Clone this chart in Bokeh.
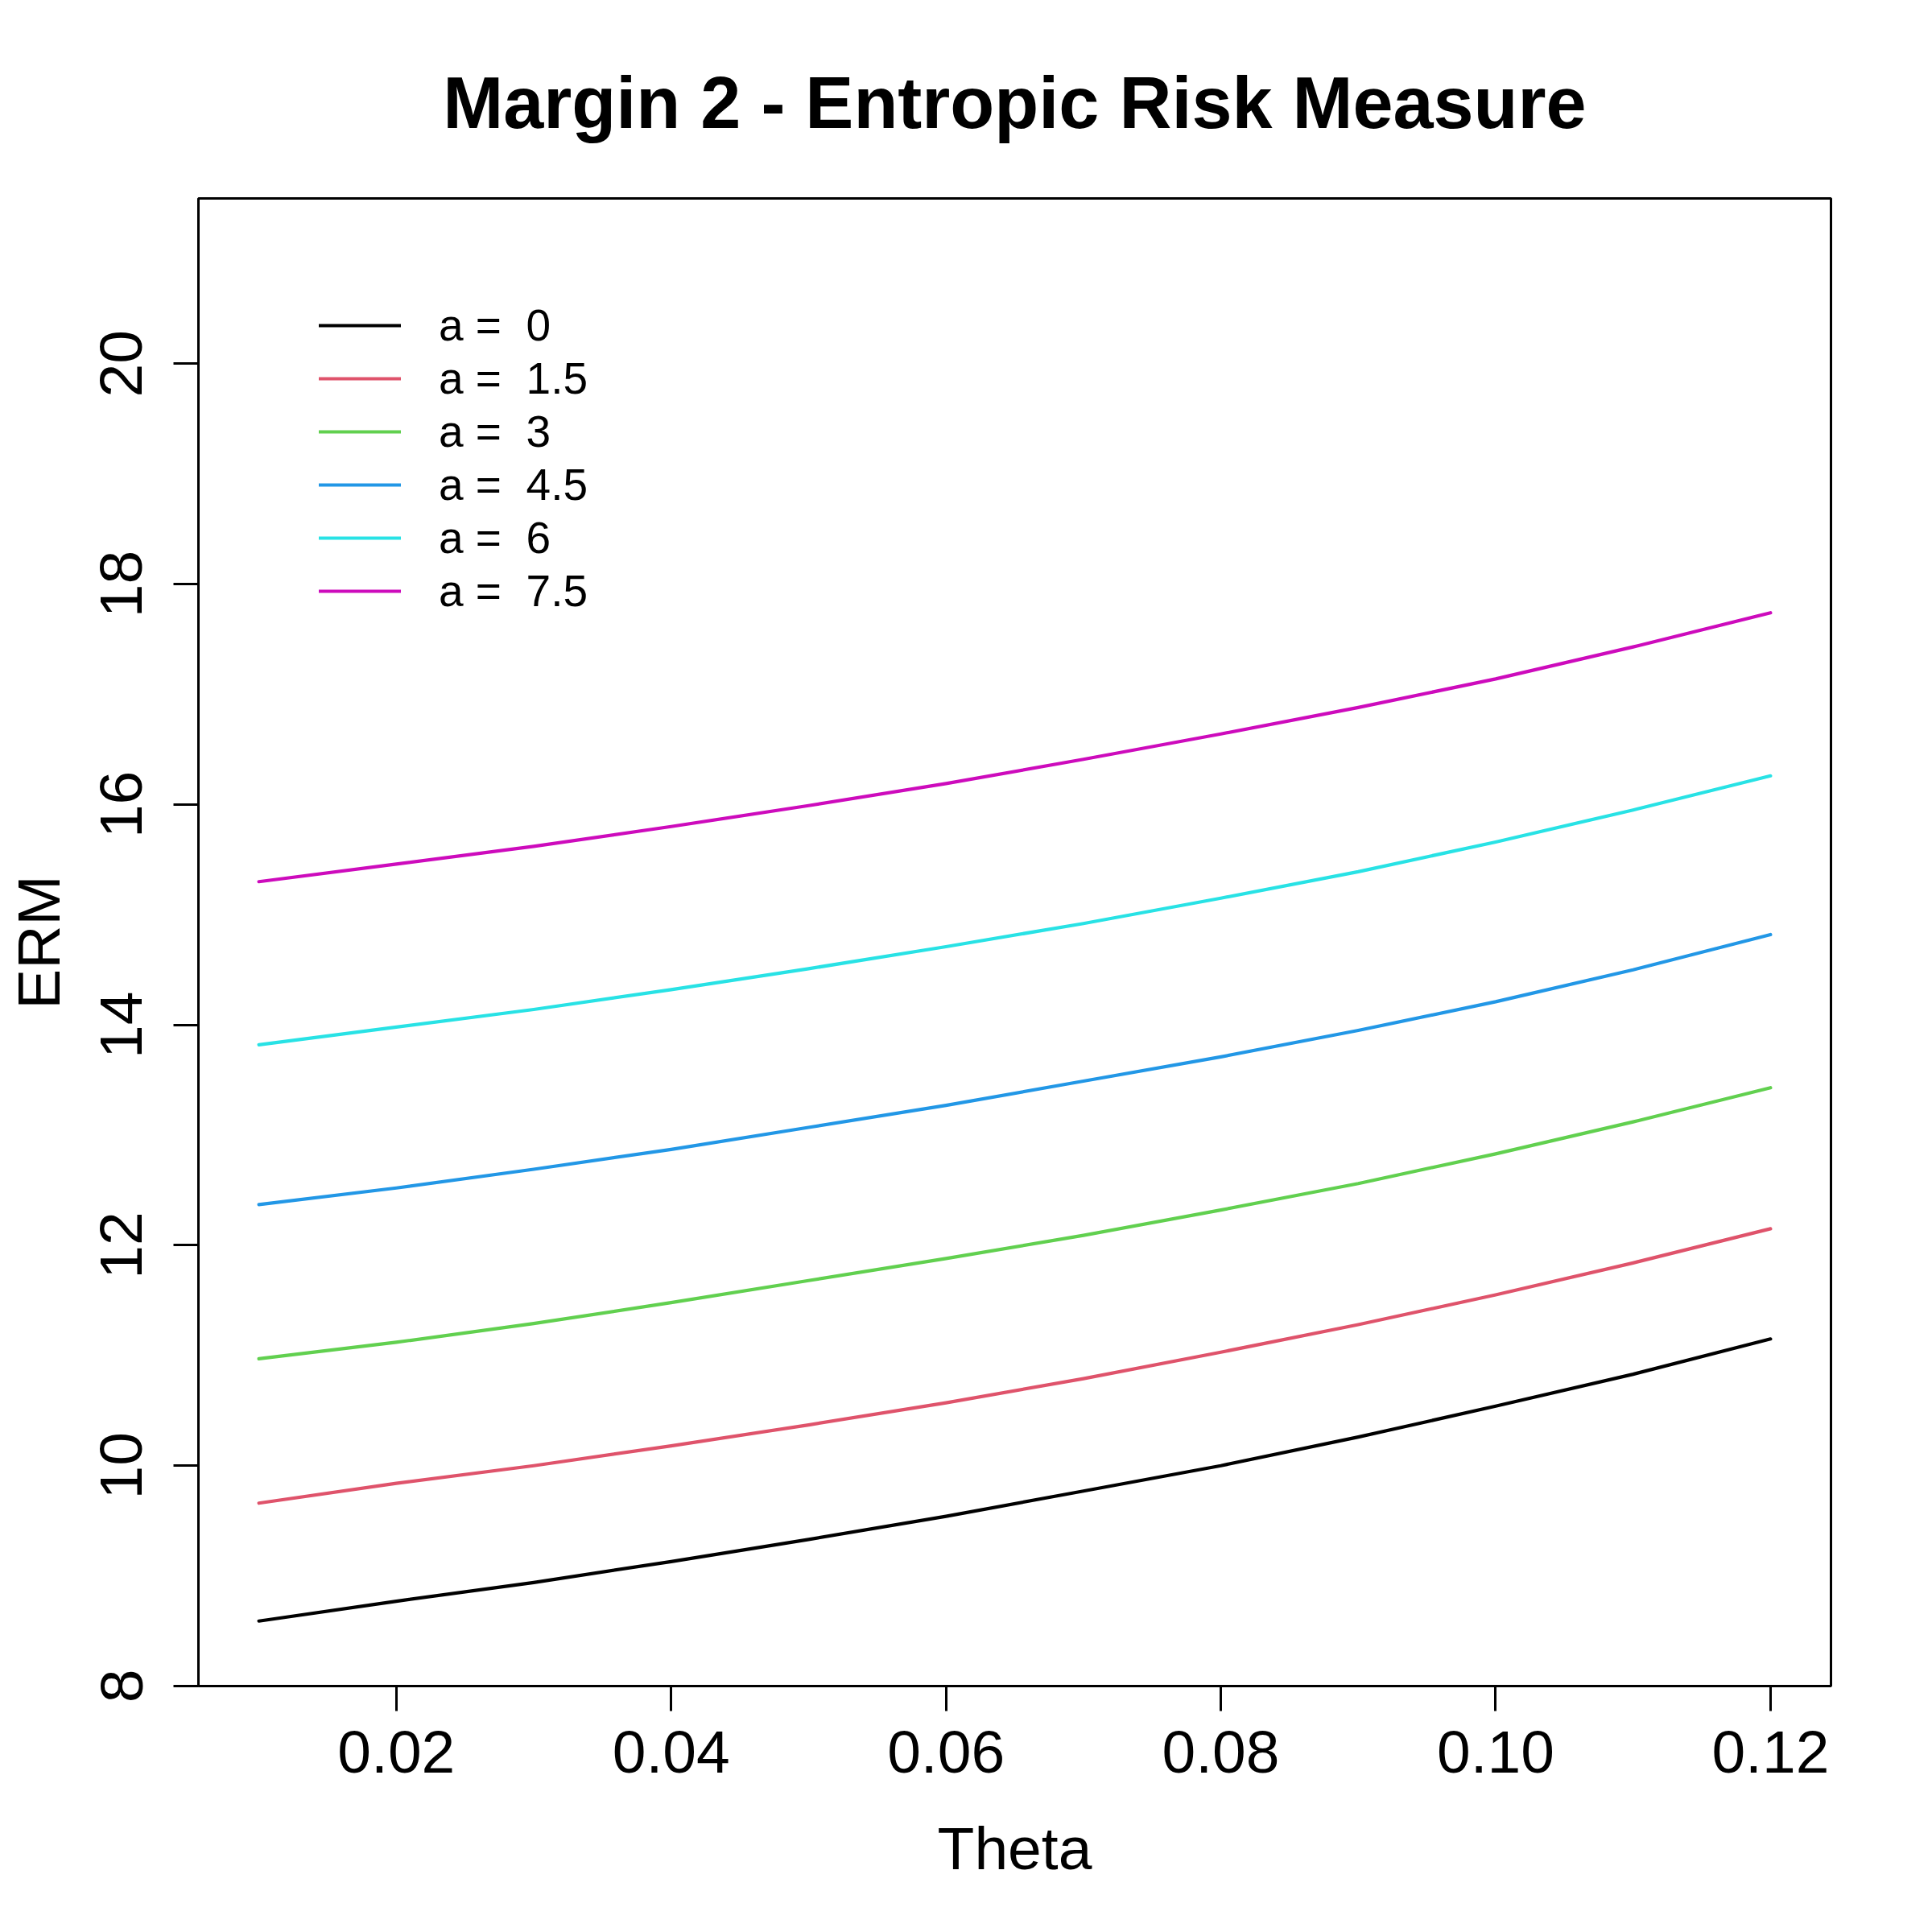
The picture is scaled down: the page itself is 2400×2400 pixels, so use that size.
from bokeh.plotting import figure
from bokeh.models import Range1d, FixedTicker, NumeralTickFormatter, Legend, LegendItem
from bokeh.embed import file_html
from bokeh.resources import INLINE

# ---- data ----
theta = [0.01, 0.02, 0.03, 0.04, 0.05, 0.06, 0.07, 0.08, 0.09, 0.10, 0.11, 0.12]
a_values = ["0", "1.5", "3", "4.5", "6", "7.5"]
erm_a0 = [8.59, 8.77, 8.94, 9.13, 9.33, 9.54, 9.77, 10.00, 10.26, 10.54, 10.83, 11.15]
erm_a15 = [9.66, 9.84, 10.00, 10.18, 10.37, 10.57, 10.79, 11.03, 11.28, 11.55, 11.84, 12.15]
erm_a3 = [10.97, 11.12, 11.29, 11.48, 11.68, 11.88, 12.09, 12.32, 12.56, 12.83, 13.12, 13.43]
erm_a45 = [12.37, 12.52, 12.69, 12.87, 13.07, 13.27, 13.49, 13.71, 13.95, 14.21, 14.50, 14.82]
erm_a6 = [13.82, 13.98, 14.14, 14.32, 14.51, 14.71, 14.92, 15.15, 15.39, 15.66, 15.95, 16.26]
erm_a75 = [15.30, 15.46, 15.62, 15.80, 15.99, 16.19, 16.41, 16.64, 16.88, 17.14, 17.43, 17.74]
series = [erm_a0, erm_a15, erm_a3, erm_a45, erm_a6, erm_a75]
colors = ["#000000", "#DF536B", "#61D04F", "#2297E6", "#28E2E5", "#CD0BBC"]
x_ticks = [0.02, 0.04, 0.06, 0.08, 0.10, 0.12]
y_ticks = [8, 10, 12, 14, 16, 18, 20]

FONT = "Liberation Sans"

p = figure(width=2392, height=2392, output_backend="svg", toolbar_location=None,
           x_range=Range1d(0.0056, 0.1244), y_range=Range1d(8, 21.5),
           min_border_left=246, min_border_right=118, min_border_top=246,
           min_border_bottom=298, title="Margin 2 - Entropic Risk Measure")

p.title.align = "center"
p.title.text_font = FONT
p.title.text_font_size = "90px"
p.title.text_font_style = "bold"
p.title.text_color = "black"
p.title.standoff = 137

p.grid.visible = False
p.outline_line_color = "black"
p.outline_line_width = 3
p.outline_line_alpha = 1.0
p.background_fill_color = "white"
p.border_fill_color = "white"

for ax in (p.xaxis[0], p.yaxis[0]):
    ax.axis_line_color = None
    ax.major_tick_out = 31
    ax.major_tick_in = 0
    ax.minor_tick_out = 0
    ax.minor_tick_in = 0
    ax.major_tick_line_width = 3
    ax.major_tick_line_color = "black"
    ax.major_label_text_font = FONT
    ax.major_label_text_font_size = "75px"
    ax.major_label_text_color = "black"
    ax.axis_label_text_font = FONT
    ax.axis_label_text_font_size = "75px"
    ax.axis_label_text_font_style = "normal"
    ax.axis_label_text_color = "black"

p.xaxis.ticker = FixedTicker(ticks=x_ticks)
p.xaxis.formatter = NumeralTickFormatter(format="0.00")
p.xaxis.major_label_standoff = 25
p.xaxis.axis_label = "Theta"
p.xaxis.axis_label_standoff = 49

p.yaxis.ticker = FixedTicker(ticks=y_ticks)
p.yaxis.major_label_orientation = "parallel"
p.yaxis.major_label_standoff = 39
p.yaxis.axis_label = "ERM"
p.yaxis.axis_label_standoff = 33

items = []
for a, ys, c in zip(a_values, series, colors):
    r = p.line(theta, ys, line_color=c, line_width=4.2, line_cap="round", line_join="round")
    items.append(LegendItem(label=f"a =  {a}", renderers=[r]))

legend = Legend(items=items, location=(150, 1327))
legend.border_line_color = None
legend.background_fill_alpha = 0
legend.padding = 0
legend.margin = 0
legend.spacing = 0
legend.glyph_width = 102
legend.glyph_height = 66
legend.label_height = 66
legend.label_standoff = 47
legend.label_text_font = FONT
legend.label_text_font_size = "55px"
legend.label_text_color = "black"
p.add_layout(legend)

open("out.html", "w").write(file_html(p, INLINE))
